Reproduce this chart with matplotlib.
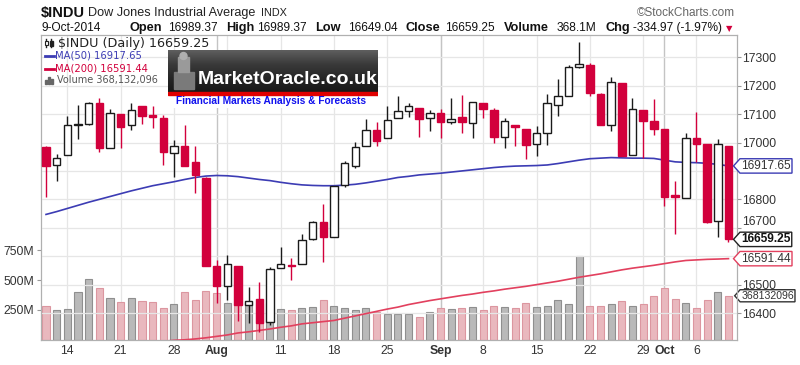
import numpy as np
import matplotlib.pyplot as plt
from matplotlib.path import Path
from matplotlib.patches import Rectangle
from matplotlib.lines import Line2D
from matplotlib.colors import LinearSegmentedColormap

plt.rcParams['font.family'] = ['Liberation Sans', 'DejaVu Sans']

dates = ['2014-07-10', '2014-07-11', '2014-07-14', '2014-07-15', '2014-07-16', '2014-07-17', '2014-07-18',
         '2014-07-21', '2014-07-22', '2014-07-23', '2014-07-24', '2014-07-25', '2014-07-28', '2014-07-29',
         '2014-07-30', '2014-07-31', '2014-08-01', '2014-08-04', '2014-08-05', '2014-08-06', '2014-08-07',
         '2014-08-08', '2014-08-11', '2014-08-12', '2014-08-13', '2014-08-14', '2014-08-15', '2014-08-18',
         '2014-08-19', '2014-08-20', '2014-08-21', '2014-08-22', '2014-08-25', '2014-08-26', '2014-08-27',
         '2014-08-28', '2014-08-29', '2014-09-02', '2014-09-03', '2014-09-04', '2014-09-05', '2014-09-08',
         '2014-09-09', '2014-09-10', '2014-09-11', '2014-09-12', '2014-09-15', '2014-09-16', '2014-09-17',
         '2014-09-18', '2014-09-19', '2014-09-22', '2014-09-23', '2014-09-24', '2014-09-25', '2014-09-26',
         '2014-09-29', '2014-09-30', '2014-10-01', '2014-10-02', '2014-10-03', '2014-10-06', '2014-10-07',
         '2014-10-08', '2014-10-09']

opens = [16985, 16921, 16957, 17066, 17064, 17138, 16982, 17101, 17060, 17127,
         17097, 17086, 16962, 16988, 16930, 16875, 16564, 16494, 16564, 16427,
         16450, 16368, 16558, 16570, 16572, 16661, 16720, 16669, 16849, 16916,
         16988, 17044, 17017, 17086, 17111, 17123, 17088, 17103, 17071, 17091,
         17068, 17138, 17115, 17021, 17062, 17048, 16995, 17033, 17132, 17165,
         17267, 17271, 17170, 17060, 17209, 16957, 17115, 17077, 17047, 16814,
         16804, 17017, 16994, 16725, 16989.37]
highs = [16986, 16959, 17094, 17132, 17142, 17156, 17118, 17101, 17138, 17127,
         17127, 17097, 17009, 17062, 16988, 16880, 16587, 16603, 16564, 16490,
         16509, 16562, 16634, 16593, 16678, 16725, 16783, 16848, 16935, 17001,
         17082, 17071, 17130, 17162, 17138, 17123, 17115, 17118, 17156, 17168,
         17142, 17138, 17121, 17086, 17062, 17048, 17059, 17170, 17224, 17273,
         17355, 17279, 17173, 17232, 17209, 17156, 17115, 17153, 17047, 16865,
         17033, 17107, 16994, 17013, 16989.37]
lows = [16808, 16866, 16955, 17012, 17062, 16968, 16982, 16980, 17044, 17064,
        17050, 16921, 16880, 16918, 16822, 16567, 16435, 16447, 16371, 16365,
        16335, 16359, 16558, 16517, 16572, 16658, 16579, 16669, 16845, 16912,
        16988, 16989, 17017, 17086, 17091, 17021, 17039, 17015, 17064, 17033,
        17015, 17086, 16998, 16980, 16986, 16943, 16954, 16992, 17094, 17165,
        17261, 17162, 17060, 17039, 16951, 16957, 16945, 17025, 16778, 16678,
        16804, 16931, 16718, 16666, 16649.04]
closes = [16918, 16946, 17060, 17062, 17140, 16980, 17105, 17056, 17116, 17094,
          17089, 16966, 16988, 16918, 16886, 16567, 16494, 16572, 16429, 16444,
          16365, 16555, 16572, 16564, 16658, 16719, 16669, 16848, 16927, 16984,
          17044, 17006, 17080, 17111, 17127, 17083, 17103, 17071, 17082, 17071,
          17142, 17118, 17021, 17074, 17053, 16992, 17035, 17138, 17162, 17267,
          17277, 17173, 17060, 17214, 16951, 17118, 17076, 17048, 16808, 16807,
          17015, 16995, 16722, 16994.22, 16659.25]
prev_close = 16985

# volume in millions
volumes = [285, 248, 258, 403, 507, 431, 352, 315, 352, 325,
           315, 267, 296, 403, 333, 412, 392, 304, 300, 304,
           300, 304, 256, 246, 262, 276, 333, 285, 262, 248,
           262, 234, 215, 215, 215, 186, 234, 266, 256, 266,
           274, 246, 285, 275, 264, 304, 273, 284, 333, 296,
           703, 285, 285, 296, 324, 284, 296, 362, 431, 342,
           304, 268, 333, 403, 368.132096]

ma50 = [16747, 16757, 16768, 16779, 16790, 16800, 16810, 16820, 16830, 16839,
        16848, 16855, 16862, 16870, 16877, 16882, 16884, 16883, 16880, 16875,
        16870, 16866, 16860, 16855, 16851, 16849, 16848, 16848, 16850, 16853,
        16858, 16864, 16870, 16877, 16881, 16886, 16889, 16892, 16896, 16900,
        16904, 16908, 16912, 16915, 16917, 16918, 16919, 16921, 16926, 16932,
        16938, 16943, 16945, 16947, 16946, 16945, 16945, 16944, 16938, 16932,
        16930, 16929, 16927, 16923, 16917.65]
ma200 = [16262, 16266, 16270, 16274, 16278, 16281, 16285, 16288, 16292, 16295,
         16298, 16301, 16304, 16306, 16309, 16313, 16318, 16323, 16330, 16334,
         16339, 16344, 16350, 16355, 16362, 16366, 16370, 16374, 16382, 16390,
         16398, 16406, 16414, 16421, 16430, 16437, 16444, 16450, 16456, 16462,
         16467, 16473, 16478, 16484, 16489, 16494, 16500, 16506, 16512, 16519,
         16526, 16532, 16538, 16545, 16552, 16558, 16563, 16568, 16574, 16580,
         16585, 16587, 16589, 16590, 16591.44]

tick_dates = ['2014-07-14', '2014-07-21', '2014-07-28', '2014-08-01', '2014-08-11', '2014-08-18',
              '2014-08-25', '2014-09-02', '2014-09-08', '2014-09-15', '2014-09-22', '2014-09-29',
              '2014-10-01', '2014-10-06']
tick_labels = ['14', '21', '28', 'Aug', '11', '18', '25', 'Sep', '8', '15', '22', '29', 'Oct', '6']
week_dates = ['2014-07-14', '2014-07-21', '2014-07-28', '2014-08-04', '2014-08-11', '2014-08-18',
              '2014-08-25', '2014-09-02', '2014-09-08', '2014-09-15', '2014-09-22', '2014-09-29',
              '2014-10-06']
month_dates = ['2014-08-01', '2014-09-02', '2014-10-01']
price_ticks = [16400, 16500, 16600, 16700, 16800, 16900, 17000, 17100, 17200, 17300]
# 16600 and 16900 sit under the value tags in the original, so no text for them
price_labels = ['16400', '16500', '', '16700', '16800', '', '17000', '17100', '17200', '17300']
vol_ticks = [250, 500, 750]

RED = '#d2003c'
BLUE = '#3c3cb4'
MA_RED = '#e2405e'

W, H = 800, 365
fig = plt.figure(figsize=(8, 3.65), dpi=100)


def fx(x):
    return x / W


def fy(y):
    return 1 - y / H


def tag_box(x0, y0, width, height, mutation_size):
    pad = 0.1 * mutation_size
    x0, y0 = x0 - pad, y0 - pad
    x1, y1 = x0 + width + 2 * pad, y0 + height + 2 * pad
    tip = 0.45 * (y1 - y0)
    return Path([(x0, y0), (x1, y0), (x1, y1), (x0, y1), (x0 - tip, (y0 + y1) / 2), (x0, y0), (x0, y0)],
                closed=True)


L, R, T, B = 41, 737, 34.5, 339.5
ax_vol = fig.add_axes([fx(L), fy(B), (R - L) / W, (B - T) / H])
ax = ax_vol.twinx()
ax.set_zorder(ax_vol.get_zorder() + 1)
ax.patch.set_visible(False)

x = np.arange(len(dates))
o = np.array(opens, float)
h = np.array(highs, float)
lo = np.array(lows, float)
c = np.array(closes, float)
prev = np.concatenate([[prev_close], c[:-1]])
down = c < prev
col = np.where(down, RED, '#1a1a1a')

# gridlines
for d in week_dates:
    ax_vol.axvline(dates.index(d), color='#e6e6e6', lw=0.9, zorder=0)
for d in month_dates:
    ax_vol.axvline(dates.index(d), color='#c4c4c4', lw=1.0, zorder=0)
for p in price_ticks:
    ax.axhline(p, color='#e6e6e6', lw=0.9, zorder=0)

# volume
ax_vol.bar(x, volumes, width=0.66,
           color=np.where(down, '#e9b8be', '#b9b9b9'),
           edgecolor=np.where(down, '#dc96a0', '#8f8f8f'), linewidth=0.8, zorder=2)

# moving averages
ax.plot(x, ma50, color=BLUE, lw=1.2, zorder=3)
ax.plot(x, ma200, color=MA_RED, lw=1.2, zorder=3)

# candles
ax.vlines(x, lo, h, colors=col, lw=1.0, zorder=4)
hollow = c >= o
ax.bar(x, np.abs(c - o), bottom=np.minimum(o, c), width=0.7,
       color=np.where(hollow, 'white', col), edgecolor=col, linewidth=1.0, zorder=5)

ax_vol.set_xlim(-0.47, len(dates) - 0.2)
ax.set_ylim(16307, 17380)
ax_vol.set_ylim(0, 2567)

ax_vol.set_xticks([dates.index(d) for d in tick_dates])
ax_vol.set_xticklabels(tick_labels)
for t in ax_vol.get_xticklabels():
    if t.get_text() in ('Aug', 'Sep', 'Oct'):
        t.set_fontweight('bold')
ax_vol.tick_params(axis='x', length=0, pad=4, labelsize=8.8, labelcolor='#333333')

ax_vol.set_yticks(vol_ticks)
ax_vol.set_yticklabels([f'{v}M' for v in vol_ticks])
ax_vol.tick_params(axis='y', length=3, pad=2, labelsize=8.8, labelcolor='#333333', color='#999999')

ax.set_yticks(price_ticks)
ax.set_yticklabels(price_labels)
ax.tick_params(axis='y', length=3, pad=1, labelsize=8.8, labelcolor='#333333', color='#999999')
for t in ax.get_yticklabels():
    if t.get_text() == '16700':
        t.set_va('bottom')

for a in (ax, ax_vol):
    for s in a.spines.values():
        s.set_color('#b0b0b0')
        s.set_linewidth(0.8)

# right-hand value tags
ytr = ax.get_yaxis_transform()
ax.text(1.006, ma50[-1], f'{ma50[-1]:.2f}', transform=ytr, ha='left', va='center', fontsize=8.6,
        color='#333333', zorder=10, bbox=dict(boxstyle=tag_box, fc='white', ec=BLUE, lw=1.0))
ax.text(1.006, closes[-1], f'{closes[-1]:.2f}', transform=ytr, ha='left', va='center', fontsize=8.6,
        fontweight='bold', color='#111111', zorder=10, bbox=dict(boxstyle=tag_box, fc='white', ec='#222222', lw=1.0))
ax.text(1.006, ma200[-1], f'{ma200[-1]:.2f}', transform=ytr, ha='left', va='center', fontsize=8.6,
        color='#333333', zorder=10, bbox=dict(boxstyle=tag_box, fc='white', ec=MA_RED, lw=1.0))
ax_vol.text(1.006, volumes[-1], f'{round(volumes[-1] * 1e6)}', transform=ax_vol.get_yaxis_transform(),
            ha='left', va='center', fontsize=7.6, color='#333333', zorder=10,
            bbox=dict(boxstyle=tag_box, fc='white', ec='#333333', lw=1.0))

# header
chg = closes[-1] - closes[-2]
pct = chg / closes[-2] * 100
fig.text(fx(41), fy(13), '$INDU', fontsize=10.5, fontweight='bold', va='center', color='#111111')
fig.text(fx(88), fy(13), 'Dow Jones Industrial Average', fontsize=9.1, va='center', color='#222222')
fig.text(fx(261), fy(13.5), 'INDX', fontsize=7.8, va='center', color='#222222')
fig.text(fx(735), fy(13), '\u00a9StockCharts.com', fontsize=8.5, va='center', ha='right', color='#666666')
row = [(41, '9-Oct-2014', False), (130, 'Open', True), (168, f'{opens[-1]:.2f}', False),
       (226, 'High', True), (257, f'{highs[-1]:.2f}', False), (315, 'Low', True), (348, f'{lows[-1]:.2f}', False),
       (405, 'Close', True), (445, f'{closes[-1]:.2f}', False), (504, 'Volume', True),
       (557, f'{volumes[-1]:.1f}M', False), (605, 'Chg', True), (633, f'{chg:.2f} ({pct:.2f}%)', False)]
for px_, s, bold in row:
    fig.text(fx(px_), fy(28), s, fontsize=9.2 if bold else 8.6, fontweight='bold' if bold else 'normal',
             va='center', color='#111111')
fig.text(fx(726), fy(28.5), '\u25bc', fontsize=6, va='center', color=RED,
         family=['DejaVu Sans'])

# legend inside chart
leg = ['DejaVu Sans']
fig.text(fx(58), fy(43), f'$INDU (Daily) {closes[-1]:.2f}', fontsize=9.2, va='center', color='#222222',
         family=leg, zorder=20)
fig.text(fx(55), fy(56), f'MA(50) {ma50[-1]:.2f}', fontsize=7.2, va='center', color=BLUE, family=leg, zorder=20)
fig.text(fx(55), fy(68.5), f'MA(200) {ma200[-1]:.2f}', fontsize=7.2, va='center', color=RED, family=leg, zorder=20)
fig.text(fx(57), fy(80.5), f'Volume {round(volumes[-1] * 1e6):,}', fontsize=7.0, va='center', color='#555555',
         family=leg, zorder=20)
fig.add_artist(Line2D([fx(45), fx(54)], [fy(56), fy(56)], color=BLUE, lw=2, zorder=20))
fig.add_artist(Line2D([fx(45), fx(54)], [fy(68.5), fy(68.5)], color=RED, lw=2, zorder=20))
for bx, bh in ((45, 4), (48, 7), (51, 5)):
    fig.add_artist(Rectangle((fx(bx), fy(84)), 2 / W, bh / H, transform=fig.transFigure,
                             color='#666666', zorder=20))
fig.add_artist(Line2D([fx(46), fx(46)], [fy(39), fy(47)], color='#222222', lw=1, zorder=20))
fig.add_artist(Rectangle((fx(44.5), fy(45)), 3 / W, 4 / H, transform=fig.transFigure,
                         fc='white', ec='#222222', lw=0.8, zorder=21))
fig.add_artist(Line2D([fx(51), fx(51)], [fy(39), fy(47)], color='#222222', lw=1, zorder=20))
fig.add_artist(Rectangle((fx(49.5), fy(46)), 3 / W, 5 / H, transform=fig.transFigure,
                         color='#222222', zorder=21))

# MarketOracle logo block
lg = fig.add_axes([fx(168), fy(108), 210 / W, 58 / H])
lg.set_zorder(30)
lg.set_xlim(0, 210)
lg.set_ylim(0, 58)
lg.axis('off')
lg.add_patch(Rectangle((0, 0), 210, 58, color='white', zorder=-1))
grad = np.linspace(0, 1, 64).reshape(-1, 1)
cmap = LinearSegmentedColormap.from_list('lg', ['#181818', '#262626', '#3a3a3a', '#5e5e5e'])
lg.imshow(grad, extent=(0, 210, 16, 58), cmap=cmap, origin='lower', aspect='auto', zorder=0)
lg.add_patch(Rectangle((0, 13), 210, 3, color='#e00000', zorder=1))
lg.add_patch(Rectangle((6, 19), 20, 17, color='#7a7a7a', zorder=1))
lg.add_patch(Rectangle((10, 36), 11, 15, color='#9a9a9a', zorder=1))
lg.add_patch(plt.Circle((15.5, 52), 3.5, color='#b0b0b0', zorder=1))
lg.text(30, 28.5, 'MarketOracle.co.uk', color='white', fontsize=14, fontweight='bold', va='center', zorder=3)
lg.text(103, 6.5, 'Financial Markets Analysis & Forecasts', color='#1010ee', fontsize=7.3,
        fontweight='bold', va='center', ha='center', zorder=3)

fig.savefig('out.png', dpi=100, facecolor='white')
